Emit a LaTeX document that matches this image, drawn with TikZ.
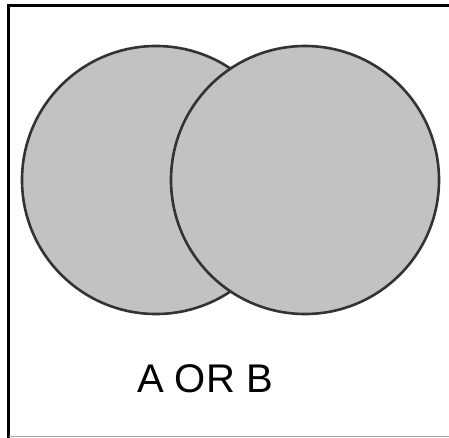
\documentclass[tikz,border=0pt]{standalone}
\usepackage{fontspec}
\setmainfont{Liberation Sans}
\begin{document}
\begin{tikzpicture}[x=1pt,y=-1pt,
  venn/.style={circle, draw=black!80, line width=2.6pt, fill=black!24, minimum size=268pt, inner sep=0pt},
  frameline/.style={line width=3pt, black}]
\useasboundingbox (0,0) rectangle (449,437);
\fill[white] (0,0) rectangle (449,437);
\draw[frameline] (8.5,440) -- (8.5,5.5) -- (452,5.5);
\draw[gray!70, line width=1pt] (8.5,436.5) -- (452,436.5);
\node[venn] (A) at (156,180) {};
\node[venn] (B) at (305,180) {};
\node[anchor=base, inner sep=0pt, font=\fontsize{40}{48}\selectfont] (lbl) at (205,392) {A OR B};
\end{tikzpicture}
\end{document}
